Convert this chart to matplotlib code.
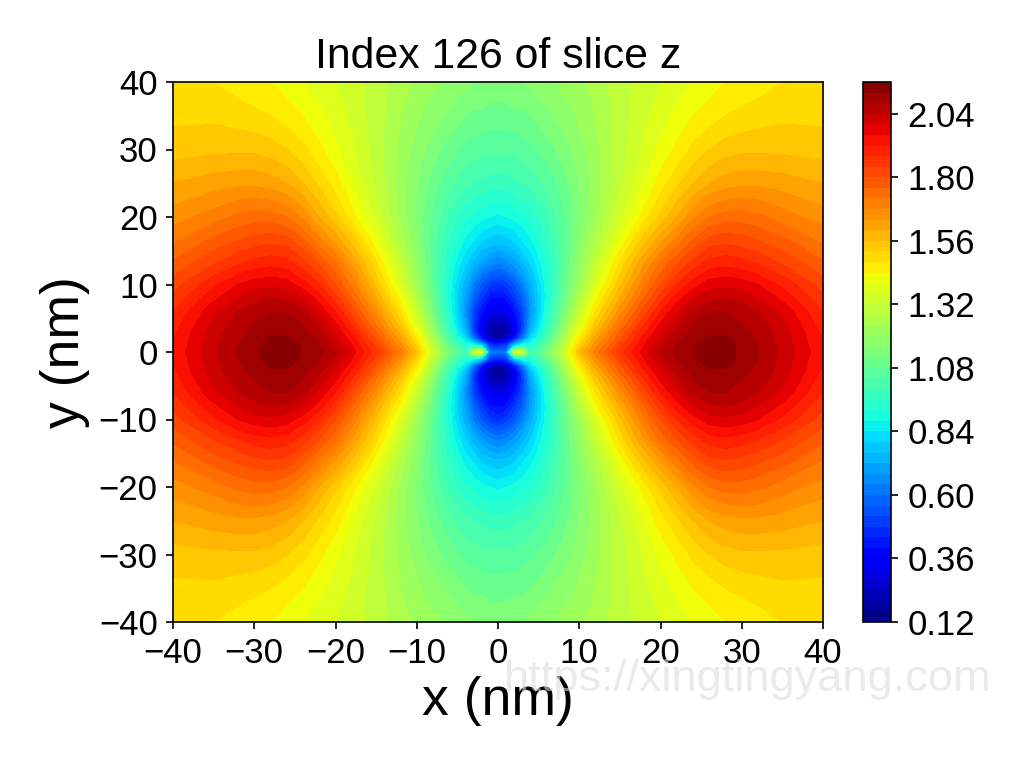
import numpy as np
import matplotlib
matplotlib.use('Agg')
import matplotlib.pyplot as plt

plt.rcParams['font.family'] = ['Liberation Sans', 'DejaVu Sans']

# grid nodes in nm, only the upper right quarter, the picture is symmetric
x_nodes = [0, 1, 2, 3, 4, 6, 8, 9, 10, 12, 15, 18, 20, 22, 24, 26, 28, 30, 32, 35, 40]
y_nodes = [0, 1, 2, 3, 4, 6, 8, 10, 13, 16, 20, 25, 30, 35, 40]

# values, one row per y node
row_y0 = [0.60, 0.62, 1.38, 1.35, 0.98, 1.14, 1.32, 1.45, 1.56, 1.70, 1.86, 1.98, 2.05, 2.09, 2.115, 2.155, 2.15, 2.105, 2.085, 2.03, 1.93]
row_y1 = [0.45, 0.50, 0.78, 0.90, 0.92, 1.08, 1.28, 1.40, 1.51, 1.66, 1.83, 1.96, 2.03, 2.085, 2.11, 2.15, 2.145, 2.10, 2.08, 2.03, 1.92]
row_y2 = [0.20, 0.26, 0.42, 0.62, 0.82, 1.02, 1.24, 1.36, 1.47, 1.62, 1.79, 1.94, 2.01, 2.07, 2.105, 2.125, 2.125, 2.095, 2.075, 2.02, 1.92]
row_y3 = [0.15, 0.19, 0.32, 0.52, 0.75, 0.98, 1.20, 1.32, 1.42, 1.58, 1.76, 1.91, 1.99, 2.05, 2.09, 2.115, 2.115, 2.09, 2.07, 2.02, 1.91]
row_y4 = [0.20, 0.23, 0.33, 0.50, 0.72, 0.95, 1.17, 1.28, 1.38, 1.54, 1.72, 1.88, 1.97, 2.03, 2.08, 2.105, 2.105, 2.08, 2.06, 2.01, 1.90]
row_y6 = [0.30, 0.32, 0.40, 0.51, 0.67, 0.92, 1.12, 1.22, 1.32, 1.48, 1.66, 1.82, 1.92, 1.99, 2.05, 2.08, 2.08, 2.06, 2.04, 1.99, 1.88]
row_y8 = [0.39, 0.41, 0.48, 0.57, 0.70, 0.90, 1.09, 1.18, 1.27, 1.43, 1.60, 1.76, 1.86, 1.94, 2.00, 2.03, 2.04, 2.03, 2.00, 1.95, 1.85]
row_y10 = [0.47, 0.49, 0.55, 0.63, 0.73, 0.90, 1.07, 1.15, 1.22, 1.37, 1.55, 1.71, 1.80, 1.88, 1.94, 1.98, 1.99, 1.98, 1.96, 1.91, 1.82]
row_y13 = [0.63, 0.65, 0.69, 0.74, 0.80, 0.92, 1.06, 1.13, 1.19, 1.32, 1.49, 1.64, 1.73, 1.80, 1.86, 1.90, 1.91, 1.90, 1.88, 1.84, 1.77]
row_y16 = [0.76, 0.77, 0.79, 0.83, 0.86, 0.95, 1.06, 1.11, 1.17, 1.27, 1.42, 1.56, 1.64, 1.71, 1.78, 1.83, 1.84, 1.83, 1.81, 1.78, 1.72]
row_y20 = [0.87, 0.88, 0.89, 0.91, 0.93, 0.99, 1.07, 1.11, 1.15, 1.23, 1.35, 1.46, 1.53, 1.60, 1.67, 1.72, 1.74, 1.74, 1.73, 1.70, 1.66]
row_y25 = [0.98, 0.98, 0.99, 1.00, 1.01, 1.05, 1.10, 1.13, 1.16, 1.22, 1.31, 1.40, 1.46, 1.51, 1.56, 1.60, 1.62, 1.63, 1.63, 1.62, 1.60]
row_y30 = [1.05, 1.05, 1.05, 1.06, 1.07, 1.10, 1.14, 1.16, 1.18, 1.23, 1.30, 1.37, 1.41, 1.45, 1.49, 1.52, 1.54, 1.55, 1.55, 1.55, 1.54]
row_y35 = [1.10, 1.10, 1.11, 1.11, 1.12, 1.15, 1.18, 1.19, 1.21, 1.24, 1.30, 1.35, 1.38, 1.41, 1.44, 1.46, 1.48, 1.49, 1.50, 1.51, 1.51]
row_y40 = [1.15, 1.15, 1.16, 1.16, 1.17, 1.19, 1.21, 1.22, 1.23, 1.26, 1.30, 1.34, 1.36, 1.38, 1.40, 1.42, 1.44, 1.45, 1.46, 1.48, 1.49]

rows = [row_y0, row_y1, row_y2, row_y3, row_y4, row_y6, row_y8, row_y10,
        row_y13, row_y16, row_y20, row_y25, row_y30, row_y35, row_y40]

ticks_xy = [-40, -30, -20, -10, 0, 10, 20, 30, 40]
cbar_ticks = [0.12, 0.36, 0.60, 0.84, 1.08, 1.32, 1.56, 1.80, 2.04]
levels = [0.12 + 0.04 * i for i in range(52)]

# mirror the quarter to the full plane
q = np.array(rows)
top = np.hstack([q[:, :0:-1], q])
Z = np.vstack([top[:0:-1], top])
x = np.r_[-np.array(x_nodes[:0:-1]), x_nodes]
y = np.r_[-np.array(y_nodes[:0:-1]), y_nodes]

fig = plt.figure(figsize=(10.24, 7.68), dpi=100)
ax = fig.add_axes([173 / 1024, 1 - 622 / 768, 650 / 1024, 540 / 768])
cax = fig.add_axes([863 / 1024, 1 - 622 / 768, 28 / 1024, 540 / 768])

cs = ax.contourf(x, y, Z, levels=levels, cmap='jet')
ax.set_xlim(-40, 40)
ax.set_ylim(-40, 40)
ax.set_xticks(ticks_xy)
ax.set_yticks(ticks_xy)
ax.tick_params(labelsize=25, length=5, width=1.2, pad=6)
ax.set_title('Index 126 of slice z', fontsize=30.8, pad=10)
ax.set_xlabel('x (nm)', fontsize=38.5, labelpad=4)
ax.set_ylabel('y (nm)', fontsize=38.5, labelpad=6)
for s in ax.spines.values():
    s.set_linewidth(1.2)

cb = fig.colorbar(cs, cax=cax, ticks=cbar_ticks)
cb.ax.set_yticklabels(['%.2f' % t for t in cbar_ticks])
cb.ax.tick_params(labelsize=25, length=5, width=1.2, pad=7)
cb.outline.set_linewidth(1.2)

# watermark
fig.text(748 / 1024, 1 - 680 / 768, 'https://xingtingyang.com', fontsize=32.6, color='#dddddd',
         alpha=0.6, ha='center', va='center', zorder=10)

fig.savefig('out.png', dpi=100)
